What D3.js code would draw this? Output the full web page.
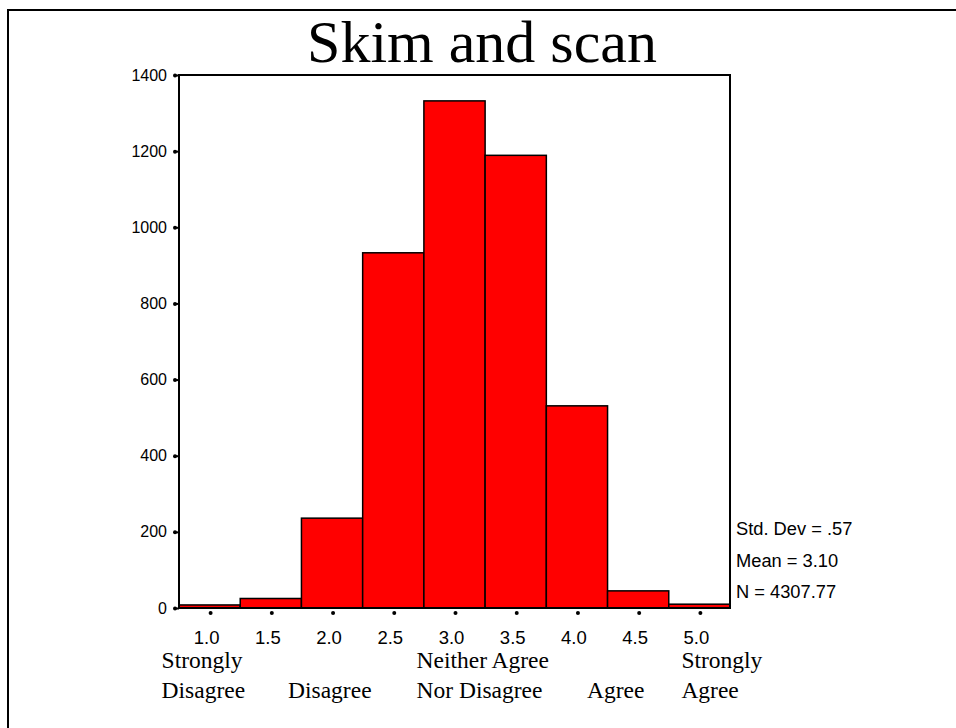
<!DOCTYPE html>
<html>
<head>
<meta charset="utf-8">
<script src="https://cdn.jsdelivr.net/npm/d3@7"></script>
<style>
  body { margin: 0; background: #fff; }
  svg { display: block; }
</style>
</head>
<body>
<div id="chart-container"></div>
<script>
// histogram bins (midpoints) and counts
const bins = ["1.0", "1.5", "2.0", "2.5", "3.0", "3.5", "4.0", "4.5", "5.0"];
const counts = [8, 25, 236, 933, 1332, 1189, 531, 45, 10];
const yTicks = [0, 200, 400, 600, 800, 1000, 1200, 1400];
const stats = ["Std. Dev = .57", "Mean = 3.10", "N = 4307.77"];
const anchorBins = ["1.0", "2.0", "3.0", "4.0", "5.0"];
const anchorLines = [
    ["Strongly", "Disagree"],
    ["", "Disagree"],
    ["Neither Agree", "Nor Disagree"],
    ["", "Agree"],
    ["Strongly", "Agree"]
];

const width = 956;
const height = 728;
const margin = { top: 75, right: 226, bottom: 120, left: 179 };

const svg = d3.select("#chart-container")
    .append("svg")
    .attr("width", width)
    .attr("height", height);

// outer frame (left and top edges only)
svg.append("path")
    .attr("d", `M8,${height} L8,10 L${width},10`)
    .attr("fill", "none")
    .attr("stroke", "#000")
    .attr("stroke-width", 2);

svg.append("text")
    .attr("x", 482)
    .attr("y", 62)
    .attr("text-anchor", "middle")
    .style("font-family", "'Liberation Serif', 'Times New Roman', serif")
    .style("font-size", "60px")
    .text("Skim and scan");

const x = d3.scaleBand()
    .domain(bins)
    .range([margin.left, width - margin.right])
    .padding(0);

const y = d3.scaleLinear()
    .domain([0, 1400])
    .range([height - margin.bottom, margin.top]);

const plot = svg.append("g");

// bars
plot.selectAll(".bar")
    .data(bins.map((b, i) => ({ bin: b, value: counts[i] })))
    .enter()
    .append("rect")
    .attr("class", "bar")
    .attr("x", d => x(d.bin))
    .attr("y", d => y(d.value))
    .attr("width", x.bandwidth())
    .attr("height", d => y(0) - y(d.value))
    .attr("fill", "#ff0000")
    .attr("stroke", "#000")
    .attr("stroke-width", 1.5);

// plot frame
plot.append("rect")
    .attr("x", margin.left)
    .attr("y", margin.top)
    .attr("width", width - margin.left - margin.right)
    .attr("height", height - margin.top - margin.bottom)
    .attr("fill", "none")
    .attr("stroke", "#000")
    .attr("stroke-width", 2);

// y axis
const yAxis = svg.append("g")
    .attr("transform", `translate(${margin.left},0)`)
    .call(d3.axisLeft(y).tickValues(yTicks).tickSize(5).tickPadding(7).tickFormat(d3.format("d")));
yAxis.select(".domain").remove();
yAxis.selectAll(".tick line").attr("stroke", "#000").attr("stroke-width", 2);
yAxis.selectAll(".tick").append("circle")
    .attr("cx", -4)
    .attr("r", 2)
    .attr("fill", "#000");
yAxis.selectAll(".tick text")
    .style("font-family", "'Liberation Sans', Arial, sans-serif")
    .style("font-size", "16px")
    .attr("fill", "#000");

// x axis: dots under bar centres, labels below
const xAxis = svg.append("g")
    .attr("transform", `translate(1,${y(0)})`)
    .call(d3.axisBottom(x).tickSize(0).tickPadding(23));
xAxis.select(".domain").remove();
xAxis.selectAll(".tick").append("circle")
    .attr("cy", 5)
    .attr("r", 2)
    .attr("fill", "#000");
xAxis.selectAll(".tick text")
    .attr("dx", -4)
    .style("font-family", "'Liberation Sans', Arial, sans-serif")
    .style("font-size", "18.5px")
    .attr("fill", "#000");

// anchor labels under the ticks (left edge offset from each tick centre)
const anchorShift = [-48, -44, -38, 10, -18];
const anchors = svg.selectAll(".anchor")
    .data(anchorBins)
    .enter()
    .append("text")
    .attr("class", "anchor")
    .style("font-family", "'Liberation Serif', 'Times New Roman', serif")
    .style("font-size", "23.5px");

anchors.selectAll("tspan")
    .data((d, j) => anchorLines[j].map((t, i) => ({
        t, i, left: x(d) + x.bandwidth() / 2 + anchorShift[j]
    })))
    .enter()
    .append("tspan")
    .attr("x", d => d.left)
    .attr("y", d => 668 + d.i * 30)
    .text(d => d.t);

// stats text
svg.selectAll(".stat")
    .data(stats)
    .enter()
    .append("text")
    .attr("class", "stat")
    .attr("x", 736)
    .attr("y", (d, i) => 535 + i * 31.5)
    .style("font-family", "'Liberation Sans', Arial, sans-serif")
    .style("font-size", "18.3px")
    .text(d => d);
</script>
</body>
</html>
